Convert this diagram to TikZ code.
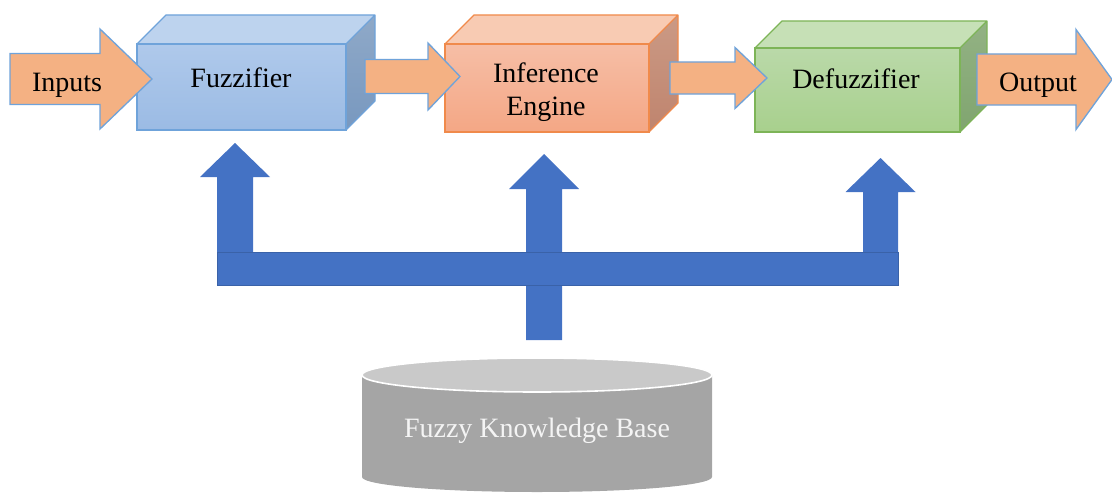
\documentclass[tikz,border=0pt]{standalone}
\usepackage{fontspec}
\setmainfont{Liberation Serif}

% palette
\definecolor{arrowfill}{HTML}{F4B183}
\definecolor{arrowedge}{HTML}{6FA3DA}
\definecolor{busblue}{HTML}{4472C4}
\definecolor{busedge}{HTML}{3A62A8}
\definecolor{dbtop}{HTML}{C9C9C9}
\definecolor{dbside}{HTML}{A5A5A5}
\definecolor{dbtext}{HTML}{F4F4F4}

\definecolor{bluetop}{HTML}{BDD3EE}
\definecolor{bluefronta}{HTML}{AFC9EB}
\definecolor{bluefrontb}{HTML}{9BBBE4}
\definecolor{bluesidea}{HTML}{8FA9C8}
\definecolor{bluesideb}{HTML}{7898BF}
\definecolor{blueedge}{HTML}{6FA3DA}

\definecolor{orangetop}{HTML}{F8CBB3}
\definecolor{orangefronta}{HTML}{F6BEA6}
\definecolor{orangefrontb}{HTML}{F4A785}
\definecolor{orangesidea}{HTML}{CB9A85}
\definecolor{orangesideb}{HTML}{BF846E}
\definecolor{orangeedge}{HTML}{F08A4B}

\definecolor{greentop}{HTML}{C6E0B6}
\definecolor{greenfronta}{HTML}{BAD9A9}
\definecolor{greenfrontb}{HTML}{A8D08D}
\definecolor{greensidea}{HTML}{93B284}
\definecolor{greensideb}{HTML}{80A56F}
\definecolor{greenedge}{HTML}{7DB457}

\tikzset{
  cubefront/.style={rectangle, inner sep=0pt, outer sep=0pt, line width=1pt},
  cubeline/.style={line width=1pt, line join=round},
  flowarrow/.style={fill=arrowfill, draw=arrowedge, line width=1pt, line join=miter},
  lbl/.style={inner sep=0pt, anchor=base, font=\fontsize{21}{25}\selectfont},
}

% 3-D box: name, left, top, right, bottom, depth, palette
\newcommand{\cubebox}[7]{%
  \shade[top color=#7sidea, bottom color=#7sideb]
    (#4,#3) -- (#4+#6,#3-#6) -- (#4+#6,#5-#6) -- (#4,#5) -- cycle;
  \fill[#7top] (#2,#3) -- (#2+#6,#3-#6) -- (#4+#6,#3-#6) -- (#4,#3) -- cycle;
  \node[cubefront, top color=#7fronta, bottom color=#7frontb, draw=#7edge,
        minimum width={(#4-#2)*0.75pt}, minimum height={(#5-#3)*0.75pt},
        anchor=north west] (#1) at (#2,#3) {};
  \draw[#7edge, cubeline] (#2,#3) -- (#2+#6,#3-#6) -- (#4+#6,#3-#6)
    -- (#4+#6,#5-#6) -- (#4,#5) (#4,#3) -- (#4+#6,#3-#6);
}

% block arrow to the right: start x, head base x, tip x, mid y, shaft half, head half
\newcommand{\rightblock}[6]{%
  \draw[flowarrow] (#1,#4-#5) -- (#2,#4-#5) -- (#2,#4-#6) -- (#3,#4)
    -- (#2,#4+#6) -- (#2,#4+#5) -- (#1,#4+#5) -- cycle;
}

% block arrow pointing up: mid x, tip y, head base y, head half, shaft half, foot y
\newcommand{\upblock}[6]{%
  \fill[busblue] (#1-#5,#6) -- (#1-#5,#3) -- (#1-#4,#3) -- (#1,#2)
    -- (#1+#4,#3) -- (#1+#5,#3) -- (#1+#5,#6) -- cycle;
}

\begin{document}
\begin{tikzpicture}[x=0.75pt, y=-0.75pt]
\useasboundingbox (0,0) rectangle (1112,492);

% processing stages
\cubebox{fuzz}{137}{44}{346}{130}{29}{blue}
\cubebox{infer}{445}{44}{649}{132}{29}{orange}
\cubebox{defuzz}{755}{48}{960}{132}{27}{green}

% data flow arrows
\rightblock{10}{100}{152}{79}{25.5}{50}
\rightblock{365}{428}{460}{76.5}{17}{33.5}
\rightblock{670}{735}{767}{78}{16}{30.5}
\rightblock{977}{1076}{1112}{79.5}{25.5}{50}

% labels
\node[lbl] (tin) at (67,91) {Inputs};
\node[lbl] (tfuzz) at (241,87) {Fuzzifier};
\node[lbl] (tinf) at (546,82) {Inference};
\node[lbl] (teng) at (546,115) {Engine};
\node[lbl] (tdef) at (856,89) {Defuzzifier};
\node[lbl] (tout) at (1038,91) {Output};

% knowledge base distribution bus
\upblock{235}{143}{177}{35}{18}{268}
\upblock{544}{154}{189}{35}{18}{340}
\upblock{880.5}{158}{192}{35}{17.5}{268}
\fill[busblue, draw=busedge, line width=0.6pt] (217,252) rectangle (898,285);

% knowledge base store
\fill[dbside] (362,375) -- (362,477)
  arc[start angle=180, end angle=0, x radius=175, y radius=15] -- (712,375) -- cycle;
\draw[white, line width=1.2pt, fill=dbtop] (537,375) ellipse [x radius=175, y radius=17];
\node[lbl, text=dbtext] (tkb) at (537,437) {Fuzzy Knowledge Base};
\end{tikzpicture}
\end{document}
